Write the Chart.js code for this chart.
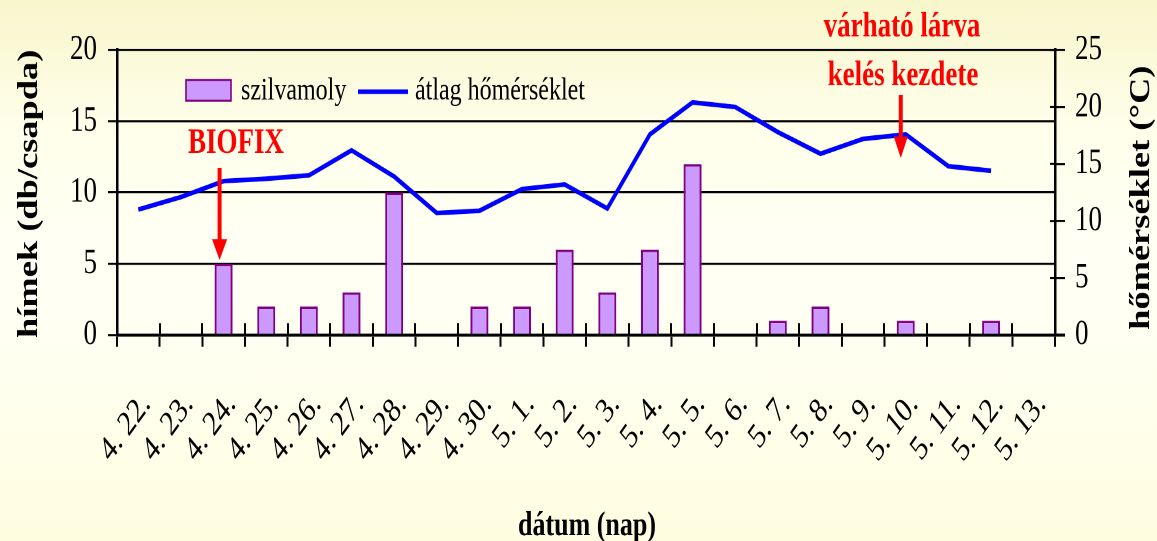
<!DOCTYPE html>
<html lang="hu">
<head>
<meta charset="utf-8">
<title>szilvamoly és átlag hőmérséklet</title>
<script src="https://cdn.jsdelivr.net/npm/chart.js@4.4.1/dist/chart.umd.min.js"></script>
<style>
  html, body { margin: 0; padding: 0; width: 1157px; height: 541px; overflow: hidden; }
  body { background: linear-gradient(to bottom, #f8f6cb 0%, #fefee9 22%, #fffff4 45%, #fffff2 62%, #fffde0 100%); }
  /* the original picture is stretched vertically, so the chart is drawn 416px high and scaled */
  #wrap { width: 1157px; height: 416px; transform: scaleY(1.3005); transform-origin: 0 0; }
</style>
</head>
<body>
<div id="wrap"><canvas id="chart" width="1157" height="416"></canvas></div>
<script>
// --- Data ---
const dates = ['4. 22.', '4. 23.', '4. 24.', '4. 25.', '4. 26.', '4. 27.', '4. 28.', '4. 29.', '4. 30.',
  '5. 1.', '5. 2.', '5. 3.', '5. 4.', '5. 5.', '5. 6.', '5. 7.', '5. 8.', '5. 9.', '5. 10.',
  '5. 11.', '5. 12.', '5. 13.'];
const mothCounts = [0, 0, 5, 2, 2, 3, 10, 0, 2, 2, 6, 3, 6, 12, 0, 1, 2, 0, 1, 0, 1, 0];
const avgTemp = [11.0, 12.1, 13.5, 13.7, 14.0, 16.2, 13.9, 10.7, 10.9, 12.8, 13.2, 11.1,
  17.6, 20.4, 20.0, 17.8, 15.9, 17.2, 17.6, 14.8, 14.4, null];
const countTicks = [0, 5, 10, 15, 20];
const tempTicks = [0, 5, 10, 15, 20, 25];

const SERIF = '"Liberation Serif", "Times New Roman", serif';
const RED = '#ff0000';

function arrow(ctx, x, yTop, yHead, yTip, half) {
  ctx.fillStyle = RED;
  ctx.fillRect(x - 2, yTop, 4, yHead - yTop + 1);
  ctx.beginPath();
  ctx.moveTo(x - half, yHead);
  ctx.lineTo(x + half, yHead);
  ctx.lineTo(x, yTip);
  ctx.closePath();
  ctx.fill();
}

// --- Extra drawing: inner ticks, legend, notes, axis titles ---
const overlay = {
  id: 'overlay',
  afterDraw(chart) {
    const { ctx, chartArea: a, scales: { x, yT } } = chart;
    ctx.save();

    // ticks crossing into the plot
    ctx.strokeStyle = '#000';
    ctx.lineWidth = 2;
    for (let i = 0; i < dates.length; i++) {
      const px = Math.round(x.getPixelForValue(i - 0.5));
      ctx.beginPath(); ctx.moveTo(px, a.bottom); ctx.lineTo(px, a.bottom - 9); ctx.stroke();
    }
    ctx.lineWidth = 1.6;
    tempTicks.forEach(v => {
      const py = yT.getPixelForValue(v);
      ctx.beginPath(); ctx.moveTo(a.right - 5, py); ctx.lineTo(a.right, py); ctx.stroke();
    });
    ctx.lineWidth = 2.3;
    ctx.beginPath(); ctx.moveTo(a.right, a.bottom); ctx.lineTo(a.right + 10, a.bottom); ctx.stroke();

    // legend
    ctx.fillStyle = '#cc99ff';
    ctx.strokeStyle = '#800080';
    ctx.lineWidth = 1.6;
    ctx.fillRect(186, 61.5, 45, 16);
    ctx.strokeRect(186, 61.5, 45, 16);
    ctx.strokeStyle = '#0000ff';
    ctx.lineWidth = 3.6;
    ctx.beginPath(); ctx.moveTo(358, 70.5); ctx.lineTo(408, 70.5); ctx.stroke();
    ctx.fillStyle = '#000';
    ctx.font = '24px ' + SERIF;
    ctx.textBaseline = 'middle';
    ctx.textAlign = 'left';
    ctx.fillText('szilvamoly', 241, 70);
    ctx.fillText('átlag hőmérséklet', 415, 70);

    // notes
    ctx.fillStyle = RED;
    ctx.font = 'bold 27px ' + SERIF;
    ctx.textAlign = 'center';
    ctx.textBaseline = 'alphabetic';
    ctx.fillText('BIOFIX', 236, 117.5);
    ctx.fillText('várható lárva', 902, 27.8);
    ctx.fillText('kelés kezdete', 903, 65.4);
    arrow(ctx, x.getPixelForValue(2) - 4, 129, 184, 200, 7.5);
    arrow(ctx, x.getPixelForValue(18) - 5, 73, 105, 121.5, 7);

    // axis titles
    ctx.fillStyle = '#000';
    ctx.font = 'bold 28px ' + SERIF;
    ctx.save();
    ctx.translate(37, 149);
    ctx.rotate(-Math.PI / 2);
    ctx.fillText('hímek (db/csapda)', 0, 0);
    ctx.restore();
    ctx.save();
    ctx.translate(1149, 152);
    ctx.rotate(-Math.PI / 2);
    ctx.fillText('hőmérséklet (°C)', 0, 0);
    ctx.restore();
    ctx.font = 'bold 26px ' + SERIF;
    ctx.fillText('dátum (nap)', 587, 411.5);

    ctx.restore();
  }
};

new Chart(document.getElementById('chart'), {
  data: {
    labels: dates,
    datasets: [
      {
        type: 'line',
        label: 'átlag hőmérséklet',
        data: avgTemp,
        yAxisID: 'yT',
        borderColor: '#0000ff',
        borderWidth: 3.6,
        pointRadius: 0,
        tension: 0,
        order: 0,
      },
      {
        type: 'bar',
        label: 'szilvamoly',
        data: mothCounts,
        yAxisID: 'y',
        backgroundColor: '#cc99ff',
        borderColor: '#800080',
        borderWidth: 2,
        categoryPercentage: 1,
        barPercentage: 0.42,
        order: 1,
      },
    ],
  },
  options: {
    responsive: false,
    animation: false,
    devicePixelRatio: 2,
    layout: { padding: { top: 38.4, left: 0, right: 0, bottom: 0 } },
    plugins: {
      legend: { display: false },
      tooltip: { enabled: false },
    },
    scales: {
      x: {
        type: 'category',
        offset: true,
        afterFit: (s) => { s.height = 158.4; },
        grid: { offset: true, drawOnChartArea: false, color: '#000', lineWidth: 2, tickLength: 9 },
        border: { color: '#000', width: 2.3 },
        ticks: {
          color: '#000',
          font: { family: SERIF, size: 27 },
          minRotation: 47,
          maxRotation: 47,
          autoSkip: false,
          padding: 29,
          labelOffset: 8,
        },
      },
      y: {
        position: 'left',
        min: 0,
        max: 20,
        afterFit: (s) => { s.width = 117; },
        afterBuildTicks: (s) => { s.ticks = countTicks.map(v => ({ value: v })); },
        grid: { color: '#000', lineWidth: 1.6, tickLength: 9 },
        border: { color: '#000', width: 2.5 },
        ticks: { color: '#000', font: { family: SERIF, size: 27 }, padding: 11 },
      },
      yT: {
        position: 'right',
        min: 0,
        max: 25,
        afterFit: (s) => { s.width = 102; },
        afterBuildTicks: (s) => { s.ticks = tempTicks.map(v => ({ value: v })); },
        grid: { drawOnChartArea: false, color: '#000', lineWidth: 1.6, tickLength: 10 },
        border: { color: '#000', width: 2.5 },
        ticks: { color: '#000', font: { family: SERIF, size: 27 }, padding: 10 },
      },
    },
  },
  plugins: [overlay],
});
</script>
</body>
</html>
